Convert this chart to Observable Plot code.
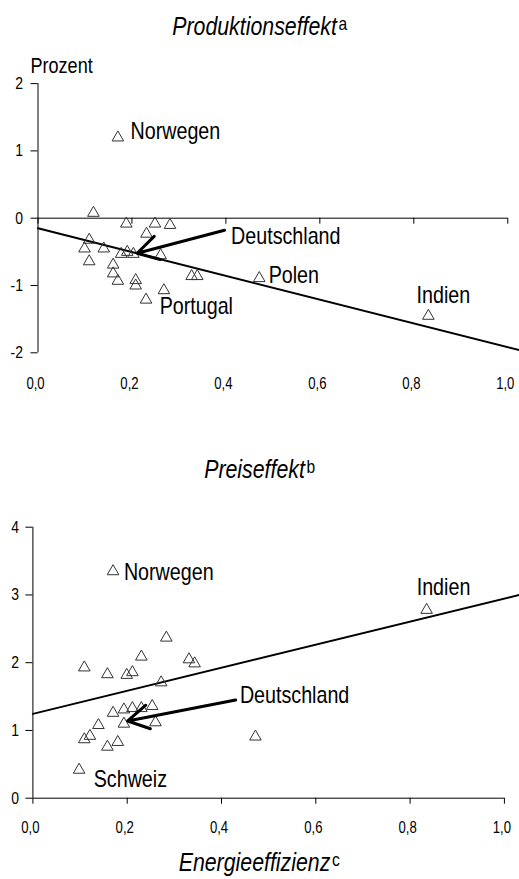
<!DOCTYPE html>
<html><head><meta charset="utf-8">
<script src="https://cdn.jsdelivr.net/npm/d3@7"></script>
<script src="https://cdn.jsdelivr.net/npm/@observablehq/plot@0.6"></script>
<style>
html,body{margin:0;padding:0;background:#fff;}
#root{position:relative;width:519px;height:879px;overflow:hidden;}
.title{position:absolute;left:0;width:519px;text-align:center;white-space:nowrap;font-style:italic;font-size:26px;line-height:26px;color:#000;}
.title .inner{display:inline-block;}
.title sup{font-style:normal;font-size:19px;vertical-align:5px;line-height:0;margin-left:2px;}
.chart{position:absolute;left:0;}
</style></head><body><div id="root"></div>
<script>
// ---------- data ----------
const xTicks = [0, 0.2, 0.4, 0.6, 0.8, 1.0];
const xTickLabels = ["0,0", "0,2", "0,4", "0,6", "0,8", "1,0"];
const prodYTicks = [-2, -1, 0, 1, 2];
const priceYTicks = [0, 1, 2, 3, 4];

// Produktionseffekt (x = Energieeffizienz, y = Prozent)
const prodX = [0.170, 0.118, 0.188, 0.249, 0.281, 0.231, 0.109, 0.099, 0.140, 0.177, 0.190, 0.203, 0.261, 0.109, 0.160, 0.160, 0.170, 0.208, 0.208, 0.327, 0.339, 0.471, 0.268, 0.230, 0.831];
const prodY = [1.22, 0.10, -0.06, -0.06, -0.08, -0.21, -0.30, -0.43, -0.43, -0.51, -0.48, -0.51, -0.53, -0.62, -0.67, -0.80, -0.91, -0.90, -0.98, -0.84, -0.84, -0.87, -1.05, -1.19, -1.43];
const prodFitX = [0, 1.025];
const prodFitY = [-0.15, -1.96];
const prodLabels = ["Norwegen", "Deutschland", "Polen", "Indien", "Portugal"];
const prodLabelX = [0.197, 0.411, 0.491, 0.806, 0.259];
const prodLabelY = [1.294, -0.276, -0.845, -1.149, -1.306];
const prodArrowFrom = [0.397, -0.18];
const prodArrowTo = [0.211, -0.52];

// Preiseffekt
const priceX = [0.170, 0.835, 0.283, 0.109, 0.158, 0.199, 0.211, 0.230, 0.331, 0.343, 0.272, 0.170, 0.193, 0.211, 0.230, 0.253, 0.260, 0.193, 0.139, 0.121, 0.109, 0.158, 0.180, 0.472, 0.098];
const priceY = [3.37, 2.80, 2.39, 1.95, 1.85, 1.84, 1.88, 2.11, 2.07, 2.01, 1.73, 1.28, 1.33, 1.35, 1.35, 1.38, 1.14, 1.12, 1.10, 0.94, 0.89, 0.78, 0.85, 0.93, 0.44];
const priceFitX = [0, 1.032];
const priceFitY = [1.245, 3.0];
const priceLabels = ["Norwegen", "Indien", "Deutschland", "Schweiz"];
const priceLabelX = [0.193, 0.814, 0.439, 0.129];
const priceLabelY = [3.327, 3.12, 1.516, 0.286];
const priceArrowFrom = [0.43, 1.45];
const priceArrowTo = [0.201, 1.14];

const titles = ["Produktionseffekt", "Preiseffekt", "Energieeffizienz"];
const titleSups = ["a", "b", "c"];
const yLabel = "Prozent";

// ---------- font detection ----------
function hasFont(name) {
  const c = document.createElement("canvas").getContext("2d");
  const s = "Deutschland Produktionseffekt 0,2";
  c.font = "40px monospace";
  const a = c.measureText(s).width;
  c.font = `40px "${name}", monospace`;
  const b = c.measureText(s).width;
  return Math.abs(a - b) > 0.5;
}
const narrow = hasFont("Liberation Sans Narrow");
const family = narrow ? '"Liberation Sans Narrow", "Arial Narrow", sans-serif' : '"Liberation Sans", Arial, sans-serif';
const squeeze = narrow ? 1 : 0.82;

const root = document.getElementById("root");
root.style.fontFamily = family;

function addTitle(i, top) {
  const d = document.createElement("div");
  d.className = "title";
  d.style.top = top + "px";
  const inner = document.createElement("span");
  inner.className = "inner";
  inner.textContent = titles[i];
  const sup = document.createElement("sup");
  sup.textContent = titleSups[i];
  inner.appendChild(sup);
  if (squeeze !== 1) inner.style.transform = `scaleX(${squeeze})`;
  d.appendChild(inner);
  root.appendChild(d);
}

function makeChart(o) {
  const pts = o.xs.map((x, i) => ({x, y: o.ys[i]}));
  const fit = o.fitX.map((x, i) => ({x, y: o.fitY[i]}));
  const labels = o.labels.map((t, i) => ({t, x: o.labelX[i], y: o.labelY[i]}));
  const arrow = [{x1: o.arrowFrom[0], y1: o.arrowFrom[1], x2: o.arrowTo[0], y2: o.arrowTo[1]}];
  const marks = [
    Plot.ruleX([0], {y1: o.yDomain[0], y2: o.yDomain[1], stroke: "#000", strokeWidth: 1}),
    Plot.ruleY([0], {x1: 0, x2: 1, stroke: "#000", strokeWidth: 1}),
    Plot.ruleX(xTicks, {x: d => d, y1: 0, y2: 0, insetTop: 0, insetBottom: -6, stroke: "#000"}),
    Plot.axisY(o.yTicks, {tickSize: 7, tickPadding: o.yPad, tickFormat: d => String(d), label: null, fontSize: 17}),
    Plot.axisX(xTicks, {tickSize: 0, tickPadding: o.xPad, tickFormat: d => xTickLabels[xTicks.indexOf(d)], label: null, fontSize: 16, dx: -2.5}),
    Plot.line(fit, {x: "x", y: "y", stroke: "#000", strokeWidth: 2}),
    Plot.dot(pts, {x: "x", y: "y", symbol: "triangle", r: 4.3, stroke: "#333", fill: "none", strokeWidth: 1, dy: 1.5}),
    Plot.arrow(arrow, {x1: "x1", y1: "y1", x2: "x2", y2: "y2", stroke: "#000", strokeWidth: 3, headLength: 12}),
    Plot.text(labels, {x: "x", y: "y", text: "t", textAnchor: "start", lineAnchor: "middle", fontSize: 24, fill: "#000"})
  ];
  if (o.yLabel) marks.push(Plot.text([o.yLabel], {frameAnchor: "top-left", textAnchor: "start", lineAnchor: "middle", dx: -7.5, dy: -18, fontSize: 22, fill: "#000"}));
  const svg = Plot.plot({
    width: 519, height: o.height,
    marginLeft: o.ml, marginRight: 0, marginTop: o.mt, marginBottom: o.mb,
    x: {domain: o.xDomain},
    y: {domain: o.yDomain},
    style: {fontFamily: family, fontSize: "17px", color: "#000", background: "transparent", overflow: "visible"},
    marks
  });
  svg.classList.add("chart");
  svg.style.top = o.top + "px";
  svg.style.position = "absolute";
  root.appendChild(svg);
  return svg;
}

addTitle(0, 13);
makeChart({top: 45, height: 355, ml: 37.5, mt: 38.1, mb: 47.7, xDomain: [0, 1.025], yDomain: [-2, 2],
  yTicks: prodYTicks, yPad: 8, xPad: 25, xs: prodX, ys: prodY, fitX: prodFitX, fitY: prodFitY,
  labels: prodLabels, labelX: prodLabelX, labelY: prodLabelY, arrowFrom: prodArrowFrom, arrowTo: prodArrowTo, yLabel});
addTitle(1, 456);
makeChart({top: 500, height: 345, ml: 32.4, mt: 26.7, mb: 47.3, xDomain: [0, 1.032], yDomain: [0, 4],
  yTicks: priceYTicks, yPad: 7, xPad: 23.5, xs: priceX, ys: priceY, fitX: priceFitX, fitY: priceFitY,
  labels: priceLabels, labelX: priceLabelX, labelY: priceLabelY, arrowFrom: priceArrowFrom, arrowTo: priceArrowTo});
addTitle(2, 849);

if (squeeze !== 1) {
  document.querySelectorAll("svg text").forEach(t => {
    const w = t.getComputedTextLength();
    if (w > 0) { t.setAttribute("textLength", w * squeeze); t.setAttribute("lengthAdjust", "spacingAndGlyphs"); }
  });
}
</script></body></html>
